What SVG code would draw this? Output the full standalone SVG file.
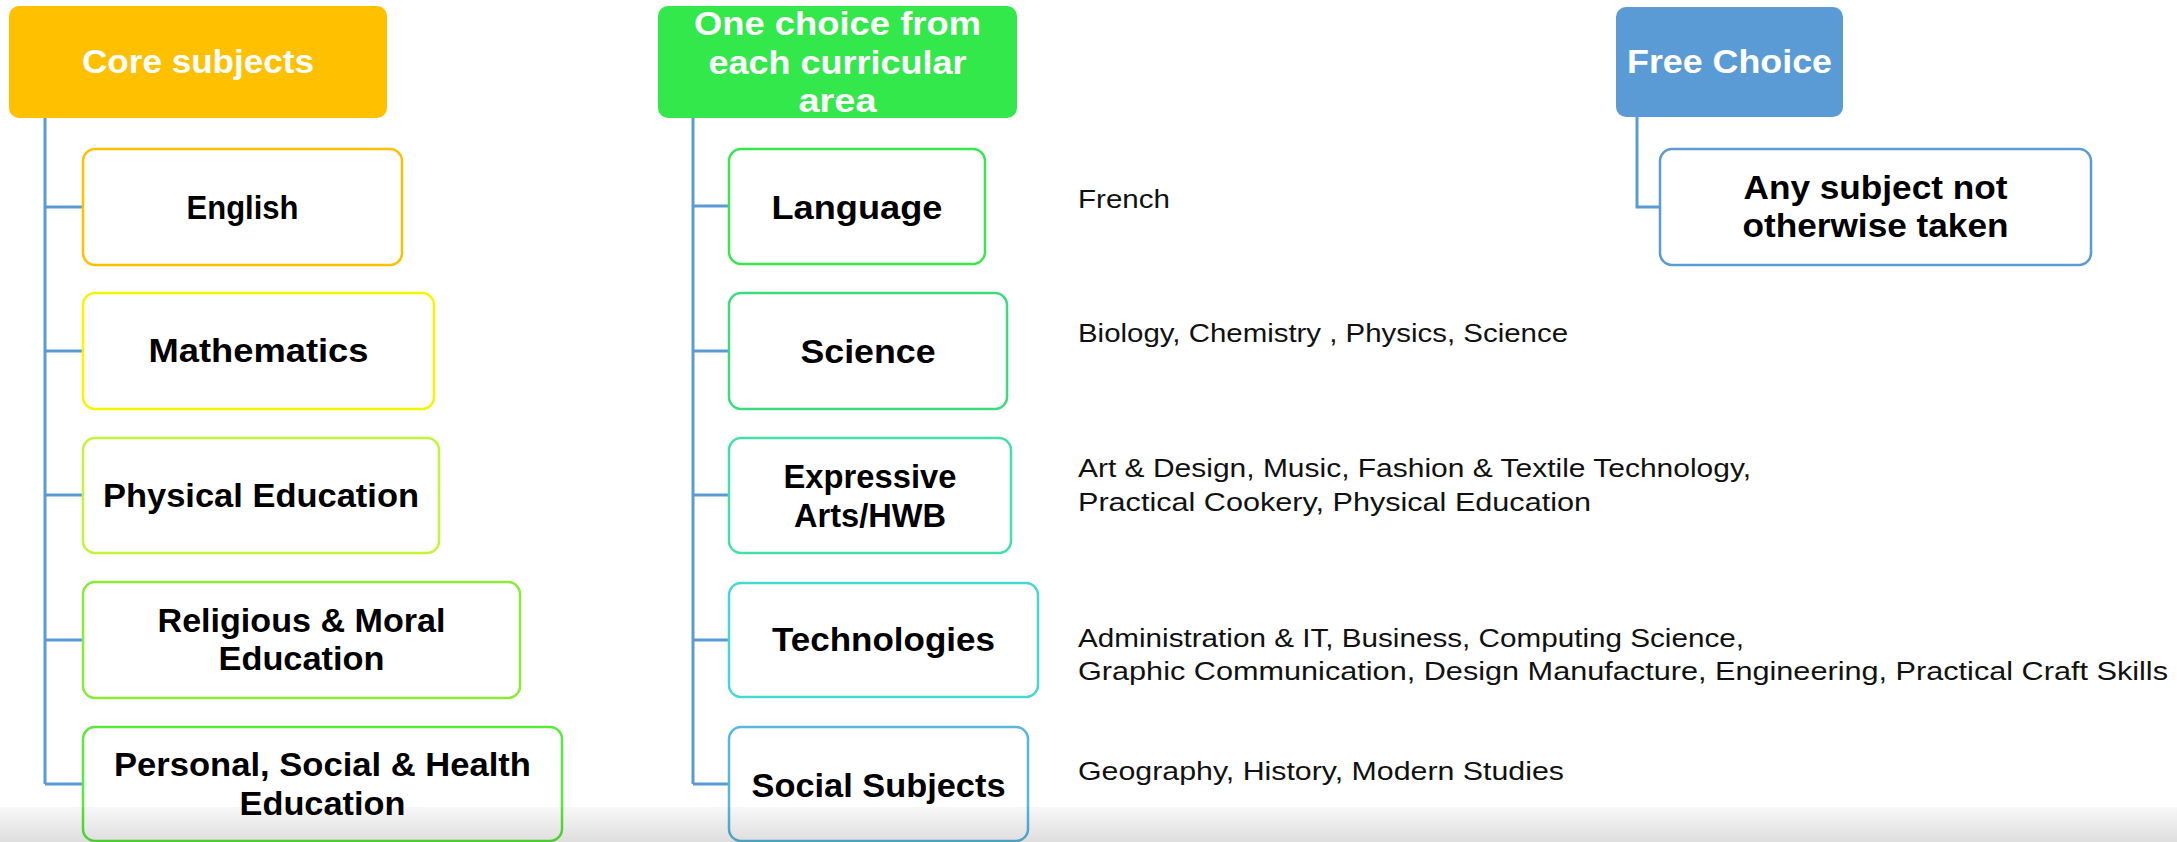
<svg xmlns="http://www.w3.org/2000/svg" width="2177" height="842" viewBox="0 0 2177 842">
<defs>
<linearGradient id="band" x1="0" y1="0" x2="0" y2="1">
<stop offset="0" stop-color="#000" stop-opacity="0.03"/>
<stop offset="1" stop-color="#000" stop-opacity="0.13"/>
</linearGradient>
</defs>
<style>
.hdr{stroke:none}
.box{fill:#FFFFFF;stroke-width:2.5}
.ht{font-family:"Liberation Sans",Arial,sans-serif;font-weight:bold;font-size:34px;fill:#FFFFFF;text-anchor:middle}
.lt{font-family:"Liberation Sans",Arial,sans-serif;font-weight:bold;font-size:34px;fill:#000000;text-anchor:middle}
.dt{font-family:"Liberation Sans",Arial,sans-serif;font-size:26px;fill:#111111}
.con{fill:none;stroke:#5B9BD5;stroke-width:3}
</style>
<rect x="0" y="0" width="2177" height="842" fill="#FFFFFF"/>
<g id="connectors">
<path class="con" d="M45 118V784M45 207H83M45 351H83M45 495H83M45 640H83M45 784H83"/>
<path class="con" d="M693 118V784M693 206H729M693 351H729M693 495H729M693 640H729M693 784H729"/>
<path class="con" d="M1637 117V207H1660"/>
</g>
<g id="core-subjects">
<rect class="hdr" x="9" y="6" width="378" height="112" rx="10" fill="#FFC000"/>
<text class="ht" x="198" y="73" textLength="232" lengthAdjust="spacingAndGlyphs">Core subjects</text>
</g>
<g id="english">
<rect class="box" x="83" y="149" width="319" height="116" rx="12" stroke="#FFC000"/>
<text class="lt" x="242.5" y="219" textLength="112" lengthAdjust="spacingAndGlyphs">English</text>
</g>
<g id="mathematics">
<rect class="box" x="83" y="293" width="351" height="116" rx="12" stroke="#F5F500"/>
<text class="lt" x="258.5" y="362" textLength="220" lengthAdjust="spacingAndGlyphs">Mathematics</text>
</g>
<g id="physical-education">
<rect class="box" x="83" y="438" width="356" height="115" rx="12" stroke="#C2F53A"/>
<text class="lt" x="261" y="507" textLength="316" lengthAdjust="spacingAndGlyphs">Physical Education</text>
</g>
<g id="religious-moral">
<rect class="box" x="83" y="582" width="437" height="116" rx="12" stroke="#8AEB36"/>
<text class="lt" x="301.5" y="632" textLength="288" lengthAdjust="spacingAndGlyphs">Religious &amp; Moral</text>
<text class="lt" x="301.5" y="670" textLength="166" lengthAdjust="spacingAndGlyphs">Education</text>
</g>
<g id="personal-social-health">
<rect class="box" x="83" y="727" width="479" height="114" rx="12" stroke="#5AE83A"/>
<text class="lt" x="322.5" y="776" textLength="417" lengthAdjust="spacingAndGlyphs">Personal, Social &amp; Health</text>
<text class="lt" x="322.5" y="815" textLength="166" lengthAdjust="spacingAndGlyphs">Education</text>
</g>
<g id="curricular-area">
<rect class="hdr" x="658" y="6" width="359" height="112" rx="10" fill="#33E84A"/>
<text class="ht" x="837.5" y="35" textLength="287" lengthAdjust="spacingAndGlyphs">One choice from</text>
<text class="ht" x="837.5" y="74" textLength="258" lengthAdjust="spacingAndGlyphs">each curricular</text>
<text class="ht" x="837.5" y="112" textLength="78" lengthAdjust="spacingAndGlyphs">area</text>
</g>
<g id="language">
<rect class="box" x="729" y="149" width="256" height="115" rx="12" stroke="#38E650"/>
<text class="lt" x="857" y="219" textLength="171" lengthAdjust="spacingAndGlyphs">Language</text>
</g>
<g id="science">
<rect class="box" x="729" y="293" width="278" height="116" rx="12" stroke="#3EDB7E"/>
<text class="lt" x="868" y="363" textLength="135" lengthAdjust="spacingAndGlyphs">Science</text>
</g>
<g id="expressive-arts">
<rect class="box" x="729" y="438" width="282" height="115" rx="12" stroke="#44DFA6"/>
<text class="lt" x="870" y="488" textLength="173" lengthAdjust="spacingAndGlyphs">Expressive</text>
<text class="lt" x="870" y="527" textLength="152" lengthAdjust="spacingAndGlyphs">Arts/HWB</text>
</g>
<g id="technologies">
<rect class="box" x="729" y="583" width="309" height="114" rx="12" stroke="#44D8D4"/>
<text class="lt" x="883.5" y="651" textLength="223" lengthAdjust="spacingAndGlyphs">Technologies</text>
</g>
<g id="social-subjects">
<rect class="box" x="729" y="727" width="299" height="114" rx="12" stroke="#58B8DC"/>
<text class="lt" x="878.5" y="797" textLength="254" lengthAdjust="spacingAndGlyphs">Social Subjects</text>
</g>
<g id="free-choice">
<rect class="hdr" x="1616" y="7" width="227" height="110" rx="10" fill="#5B9BD5"/>
<text class="ht" x="1729.5" y="73" textLength="205" lengthAdjust="spacingAndGlyphs">Free Choice</text>
</g>
<g id="any-subject">
<rect class="box" x="1660" y="149" width="431" height="116" rx="12" stroke="#5B9BD5"/>
<text class="lt" x="1875.5" y="199" textLength="264" lengthAdjust="spacingAndGlyphs">Any subject not</text>
<text class="lt" x="1875.5" y="237" textLength="266" lengthAdjust="spacingAndGlyphs">otherwise taken</text>
</g>
<g id="descriptions">
<text class="dt" x="1078" y="208" textLength="92" lengthAdjust="spacingAndGlyphs">French</text>
<text class="dt" x="1078" y="342" textLength="490" lengthAdjust="spacingAndGlyphs">Biology, Chemistry , Physics, Science</text>
<text class="dt" x="1078" y="477" textLength="673" lengthAdjust="spacingAndGlyphs">Art &amp; Design, Music, Fashion &amp; Textile Technology,</text>
<text class="dt" x="1078" y="511" textLength="513" lengthAdjust="spacingAndGlyphs">Practical Cookery, Physical Education</text>
<text class="dt" x="1078" y="647" textLength="666" lengthAdjust="spacingAndGlyphs">Administration &amp; IT, Business, Computing Science,</text>
<text class="dt" x="1078" y="680" textLength="1090" lengthAdjust="spacingAndGlyphs">Graphic Communication, Design Manufacture, Engineering, Practical Craft Skills</text>
<text class="dt" x="1078" y="780" textLength="486" lengthAdjust="spacingAndGlyphs">Geography, History, Modern Studies</text>
</g>
<rect x="0" y="807" width="2177" height="35" fill="url(#band)"/>
</svg>
